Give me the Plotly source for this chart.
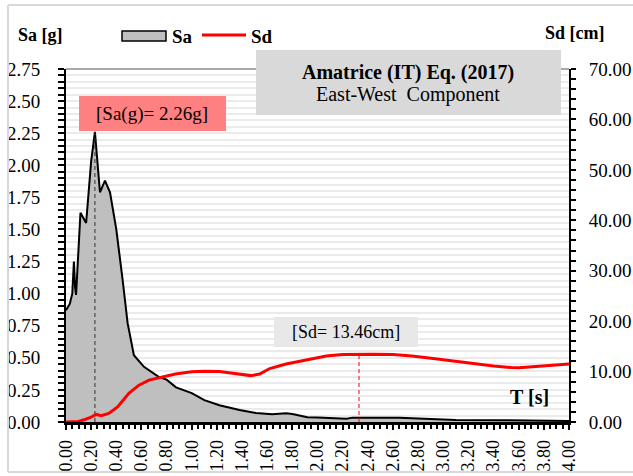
import plotly.graph_objects as go

# Spectral acceleration Sa [g] vs period T [s]
period_sa = [0.00, 0.03, 0.05, 0.063, 0.072, 0.08, 0.115, 0.16, 0.20, 0.23, 0.27, 0.31,
             0.35, 0.40, 0.45, 0.49, 0.54, 0.62, 0.74, 0.80, 0.875, 1.00, 1.10, 1.22,
             1.38, 1.51, 1.64, 1.75, 1.80, 1.92, 2.00, 2.23, 2.28, 2.65, 2.80, 3.06,
             3.10, 3.50, 3.85, 3.90, 4.00]
sa_values = [0.87, 0.92, 1.00, 1.25, 1.05, 0.99, 1.63, 1.55, 2.03, 2.26, 1.79, 1.88,
             1.79, 1.50, 1.11, 0.77, 0.52, 0.43, 0.35, 0.33, 0.27, 0.225, 0.17, 0.13,
             0.093, 0.07, 0.06, 0.068, 0.062, 0.037, 0.035, 0.025, 0.034, 0.034, 0.028, 0.02,
             0.015, 0.013, 0.012, 0.008, 0.008]

# Spectral displacement Sd [cm] vs period T [s]
period_sd = [0.00, 0.10, 0.15, 0.19, 0.24, 0.28, 0.34, 0.41, 0.50, 0.58, 0.66, 0.77,
             0.87, 1.00, 1.10, 1.22, 1.35, 1.47, 1.54, 1.62, 1.75, 1.86, 2.07, 2.20,
             2.33, 2.45, 2.60, 2.75, 2.92, 3.08, 3.23, 3.40, 3.54, 3.60, 3.71, 3.87,
             3.96, 4.00]
sd_values = [0.0, 0.1, 0.5, 0.85, 1.5, 1.25, 1.7, 3.0, 5.7, 7.3, 8.3, 8.9,
             9.5, 9.95, 10.05, 10.0, 9.65, 9.2, 9.5, 10.6, 11.5, 12.1, 13.1, 13.4,
             13.46, 13.44, 13.38, 13.1, 12.6, 12.1, 11.6, 11.1, 10.8, 10.75, 10.95, 11.2,
             11.4, 11.5]

# Peak values
sa_peak_period, sa_peak = 0.23, 2.26
sd_peak_period, sd_peak = 2.33, 13.46

title_line1 = "Amatrice (IT) Eq. (2017)"
title_line2 = "East-West  Component"

FONT = "Liberation Serif"

# plot-area geometry in pixels (for placing boxes and labels in paper units)
W, H = 633, 476
L, R, T, B = 66, 64, 69, 54
PW, PH = W - L - R, H - T - B


def px(x):
    return (x - L) / PW


def py(y):
    return (H - B - y) / PH


fig = go.Figure()

fig.add_trace(go.Scatter(
    x=period_sa, y=sa_values, name="Sa", mode="lines",
    line=dict(color="black", width=2), fill="tozeroy", fillcolor="#bfbfbf",
    hoverinfo="skip", showlegend=False))

fig.add_trace(go.Scatter(
    x=period_sd, y=sd_values, name="Sd", mode="lines", yaxis="y2",
    line=dict(color="#ff0000", width=3), hoverinfo="skip", showlegend=False))

fig.add_trace(go.Scatter(
    x=[sa_peak_period, sa_peak_period], y=[0, sa_peak], mode="lines",
    line=dict(color="#333333", width=1, dash="4px,3px"), showlegend=False,
    hoverinfo="skip"))

fig.add_trace(go.Scatter(
    x=[sd_peak_period, sd_peak_period], y=[0, sd_peak], mode="lines", yaxis="y2",
    line=dict(color="#ff0000", width=1, dash="4px,3px"), showlegend=False,
    hoverinfo="skip"))

shapes = [
    # chart frame
    dict(type="line", xref="paper", yref="paper", x0=px(8), x1=px(640), y0=py(5), y1=py(5),
         line=dict(color="#d9d9d9", width=2)),
    dict(type="line", xref="paper", yref="paper", x0=px(8), x1=px(8), y0=py(5), y1=py(472),
         line=dict(color="#d9d9d9", width=2)),
    dict(type="line", xref="paper", yref="paper", x0=px(8), x1=px(640), y0=py(472), y1=py(472),
         line=dict(color="#d9d9d9", width=2)),
    # top border of plot area
    dict(type="line", xref="paper", yref="paper", x0=0, x1=1, y0=1, y1=1,
         line=dict(color="#8c8c8c", width=1.5), layer="below"),
    # legend swatches
    dict(type="rect", xref="paper", yref="paper", x0=px(122), x1=px(166), y0=py(41), y1=py(31),
         fillcolor="#bfbfbf", line=dict(color="black", width=1.5)),
    dict(type="line", xref="paper", yref="paper", x0=px(202), x1=px(246), y0=py(35), y1=py(35),
         line=dict(color="#ff0000", width=3)),
    # title box
    dict(type="rect", xref="paper", yref="paper", x0=px(256), x1=px(561), y0=py(115), y1=py(50),
         fillcolor="#d9d9d9", line=dict(width=0)),
    # Sa peak label box
    dict(type="rect", xref="paper", yref="paper", x0=px(79), x1=px(226), y0=py(131), y1=py(96),
         fillcolor="#ff8080", line=dict(width=0)),
    # Sd peak label box
    dict(type="rect", xref="paper", yref="paper", x0=px(274), x1=px(418), y0=py(347), y1=py(317),
         fillcolor="#e8e8e8", line=dict(width=0)),
]

annotations = [
    dict(text="<b>Sa [g]</b>", xref="paper", yref="paper", x=px(16), y=py(35),
         xanchor="left", yanchor="middle", showarrow=False, font=dict(size=18)),
    dict(text="<b>Sa</b>", xref="paper", yref="paper", x=px(170), y=py(36),
         xanchor="left", yanchor="middle", showarrow=False, font=dict(size=19)),
    dict(text="<b>Sd</b>", xref="paper", yref="paper", x=px(249), y=py(36),
         xanchor="left", yanchor="middle", showarrow=False, font=dict(size=19)),
    dict(text="<b>Sd [cm]</b>", xref="paper", yref="paper", x=px(543), y=py(33),
         xanchor="left", yanchor="middle", showarrow=False, font=dict(size=18)),
    dict(text="<b>T [s]</b>", xref="paper", yref="paper", x=px(551), y=py(397),
         xanchor="right", yanchor="middle", showarrow=False, font=dict(size=20)),
    dict(text=f"<b>{title_line1}</b>", xref="paper", yref="paper", x=px(408), y=py(72),
         xanchor="center", yanchor="middle", showarrow=False, font=dict(size=20)),
    dict(text=title_line2, xref="paper", yref="paper", x=px(408), y=py(94),
         xanchor="center", yanchor="middle", showarrow=False, font=dict(size=20)),
    dict(text=f"[Sa(g)= {sa_peak:.2f}g]", xref="paper", yref="paper", x=px(152), y=py(114),
         xanchor="center", yanchor="middle", showarrow=False, font=dict(size=19)),
    dict(text=f"[Sd= {sd_peak:.2f}cm]", xref="paper", yref="paper", x=px(346), y=py(332),
         xanchor="center", yanchor="middle", showarrow=False, font=dict(size=18)),
]

fig.update_layout(
    width=W, height=H,
    margin=dict(l=L, r=R, t=T, b=B, pad=0, autoexpand=False),
    paper_bgcolor="white", plot_bgcolor="white",
    font=dict(family=FONT, size=18, color="black"),
    showlegend=False,
    xaxis=dict(range=[0, 4], dtick=0.2, tick0=0, tickformat=".2f", tickangle=-90,
               automargin=False,
               showline=True, linecolor="black", linewidth=2.5, ticks="outside",
               ticklen=5, tickwidth=1.5, tickcolor="black", showgrid=False, zeroline=False,
               ticklabelstandoff=3, tickfont=dict(size=18),
               minor=dict(dtick=0.05, ticks="outside", ticklen=4, tickcolor="black",
                          tickwidth=1.5, showgrid=False)),
    yaxis=dict(range=[0, 2.75], dtick=0.25, tickformat=".2f", showline=True,
               automargin=False,
               linecolor="black", linewidth=2, ticks="outside", ticklen=6, tickwidth=2,
               tickcolor="black", showgrid=True, gridcolor="#ebebeb", gridwidth=2,
               zeroline=False, ticklabelstandoff=14, tickfont=dict(size=19),
               minor=dict(dtick=0.05, ticks="outside", ticklen=6, tickcolor="black",
                          tickwidth=2, showgrid=True, gridcolor="#ebebeb", gridwidth=2)),
    yaxis2=dict(range=[0, 70], dtick=10, tickformat=".2f", overlaying="y", side="right",
                automargin=False,
                showline=True, linecolor="black", linewidth=2, ticks="outside", ticklen=5,
                tickwidth=2, tickcolor="black", showgrid=False, zeroline=False,
                ticklabelstandoff=9, tickfont=dict(size=19),
                minor=dict(dtick=2, ticks="outside", ticklen=5, tickcolor="black",
                           tickwidth=2)),
    shapes=shapes,
    annotations=annotations,
)

fig.write_html("out.html")
